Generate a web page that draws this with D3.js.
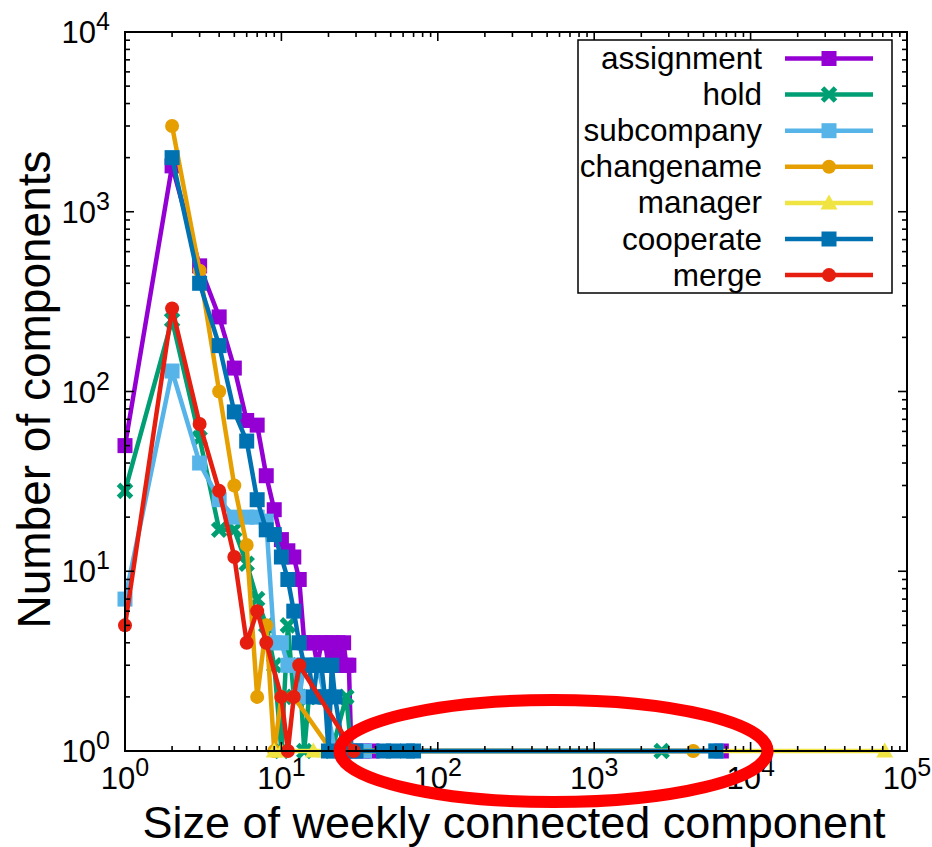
<!DOCTYPE html>
<html>
<head>
<meta charset="utf-8">
<script src="https://cdn.jsdelivr.net/npm/d3@7"></script>
<style>
  body { margin: 0; background: #fff; }
  svg { display: block; }
  text { font-family: "Liberation Sans", Arial, Helvetica, sans-serif; fill: #000; }
</style>
</head>
<body>
<svg id="chart" width="932" height="847"></svg>
<script>
// Series, in drawing order
const seriesNames   = ["assignment", "hold", "subcompany", "changename", "manager", "cooperate", "merge"];
const seriesColors  = ["#9400d3", "#009e73", "#56b4e9", "#e69f00", "#f0e442", "#0072b2", "#e51e10"];
const seriesSymbols = ["square", "cross", "square", "circle", "triangle", "square", "circle"];

// Component size -> number of components, per relation type
const assignmentSize  = [1, 2, 3, 4, 5, 6, 7, 8, 9, 10, 11, 12, 13, 14, 15, 16, 17, 18, 19, 20, 21, 22, 23, 24, 25, 26, 27, 28, 30, 33, 38, 6500];
const assignmentCount = [50, 1800, 500, 260, 135, 69, 65, 34, 22, 15, 13, 12, 9, 4, 4, 4, 3, 4, 4, 3, 4, 3, 4, 3, 4, 3, 3, 1, 1, 1, 1, 1];

const holdSize  = [1, 2, 3, 4, 5, 6, 7, 8, 9, 10, 11, 12, 13, 14, 15, 17, 19, 21, 26, 28, 2700];
const holdCount = [28, 250, 55, 17, 17, 11, 7, 5, 3, 1, 5, 2, 3, 1, 2, 2, 2, 1, 2, 1, 1];

const subcompanySize  = [1, 2, 3, 4, 5, 6, 7, 8, 9, 10, 11, 12, 13, 14, 16, 17, 19, 22, 28, 34, 6000];
const subcompanyCount = [7, 130, 40, 25, 20, 20, 20, 19, 4, 4, 3, 3, 2, 3, 3, 3, 2, 1, 1, 1, 1];

const changenameSize  = [2, 3, 4, 5, 6, 7, 8, 9, 10, 12, 21, 4300];
const changenameCount = [3000, 470, 100, 30, 14, 2, 5, 1, 2, 2, 1, 1];

const managerSize  = [9, 10, 16, 19, 72000];
const managerCount = [1, 1, 1, 1, 1];

const cooperateSize  = [2, 3, 4, 5, 6, 7, 8, 9, 10, 11, 12, 13, 14, 15, 16, 17, 18, 19, 20, 21, 22, 25, 30, 45, 52, 64, 70, 6000];
const cooperateCount = [2000, 400, 180, 77, 53, 25, 17, 16, 12, 9, 6, 4, 3, 3, 2, 3, 3, 2, 1, 3, 2, 1, 1, 1, 1, 1, 1, 1];

const mergeSize  = [1, 2, 3, 4, 5, 6, 7, 8, 10, 11, 12, 13, 29];
const mergeCount = [5, 290, 66, 28, 12, 4, 6, 4, 2, 1, 2, 3, 1];

const xTickExponents = [0, 1, 2, 3, 4, 5];
const yTickExponents = [0, 1, 2, 3, 4];

const xTitle = "Size of weekly connected component";
const yTitle = "Number of components";

// Highlighted region (size, count) for the annotation ellipse
const highlightCenter = [550, 1];

(function draw() {
  const seriesSizes  = [assignmentSize, holdSize, subcompanySize, changenameSize, managerSize, cooperateSize, mergeSize];
  const seriesCounts = [assignmentCount, holdCount, subcompanyCount, changenameCount, managerCount, cooperateCount, mergeCount];
  const series = seriesNames.map((name, i) => ({
    name,
    color: seriesColors[i],
    symbol: seriesSymbols[i],
    points: seriesSizes[i].map((s, j) => ({ size: s, count: seriesCounts[i][j] }))
  }));

  // Layout
  const plotLeft = 125, plotRight = 907, plotTop = 32, plotBottom = 751;

  const x = d3.scaleLog().domain([1, 1e5]).range([plotLeft, plotRight]);
  const y = d3.scaleLog().domain([1, 1e4]).range([plotBottom, plotTop]);

  const svg = d3.select("#chart");

  // Marker drawing
  function drawMarker(g, symbol, color, cx, cy) {
    if (symbol === "square") {
      g.append("rect").attr("x", cx - 7.5).attr("y", cy - 7.5).attr("width", 15).attr("height", 15).attr("fill", color);
    } else if (symbol === "circle") {
      g.append("circle").attr("cx", cx).attr("cy", cy).attr("r", 7).attr("fill", color);
    } else if (symbol === "triangle") {
      g.append("path").attr("d", `M${cx},${cy - 8.5}L${cx + 8.5},${cy + 6.5}L${cx - 8.5},${cy + 6.5}Z`).attr("fill", color);
    } else if (symbol === "cross") {
      g.append("path")
        .attr("d", `M${cx - 6.5},${cy - 6.5}L${cx + 6.5},${cy + 6.5}M${cx - 6.5},${cy + 6.5}L${cx + 6.5},${cy - 6.5}`)
        .attr("stroke", color).attr("stroke-width", 5).attr("fill", "none");
    }
  }

  // Series lines and points
  const line = d3.line().x(d => x(d.size)).y(d => y(d.count));
  const plot = svg.append("g").attr("class", "series");
  series.forEach(s => {
    const g = plot.append("g");
    g.append("path").datum(s.points).attr("d", line)
      .attr("fill", "none").attr("stroke", s.color).attr("stroke-width", 4.5)
      .attr("stroke-linejoin", "miter");
    s.points.forEach(p => drawMarker(g, s.symbol, s.color, x(p.size), y(p.count)));
  });

  // Frame and ticks (log-decade majors, 2..9 minors, mirrored on all sides)
  const frame = svg.append("g").attr("class", "frame");
  frame.append("rect").attr("x", plotLeft).attr("y", plotTop)
    .attr("width", plotRight - plotLeft).attr("height", plotBottom - plotTop)
    .attr("fill", "none").attr("stroke", "#000").attr("stroke-width", 2);

  function minorValues(exps) {
    const out = [];
    exps.slice(0, -1).forEach(e => { for (let k = 2; k <= 9; k++) out.push(k * Math.pow(10, e)); });
    return out;
  }
  function tick(x1, y1, x2, y2) {
    frame.append("line").attr("x1", x1).attr("y1", y1).attr("x2", x2).attr("y2", y2)
      .attr("stroke", "#000").attr("stroke-width", 1.6);
  }
  xTickExponents.forEach(e => {
    const px = x(Math.pow(10, e));
    tick(px, plotBottom, px, plotBottom - 9);
    tick(px, plotTop, px, plotTop + 9);
  });
  minorValues(xTickExponents).forEach(v => {
    const px = x(v);
    tick(px, plotBottom, px, plotBottom - 5);
    tick(px, plotTop, px, plotTop + 5);
  });
  yTickExponents.forEach(e => {
    const py = y(Math.pow(10, e));
    tick(plotLeft, py, plotLeft + 9, py);
    tick(plotRight, py, plotRight - 9, py);
  });
  minorValues(yTickExponents).forEach(v => {
    const py = y(v);
    tick(plotLeft, py, plotLeft + 5, py);
    tick(plotRight, py, plotRight - 5, py);
  });

  // Tick labels as 10^n
  function powerLabel(g, px, py, e, anchor) {
    const t = g.append("text").attr("x", px).attr("y", py).attr("text-anchor", anchor).attr("font-size", 31);
    t.append("tspan").text("10");
    t.append("tspan").attr("dy", -13).attr("font-size", 25).text(String(e));
  }
  const labels = svg.append("g").attr("class", "tick-labels");
  xTickExponents.forEach(e => powerLabel(labels, x(Math.pow(10, e)), plotBottom + 38, e, "middle"));
  yTickExponents.forEach(e => powerLabel(labels, plotLeft - 15, y(Math.pow(10, e)) + 11, e, "end"));

  // Axis titles
  svg.append("text").attr("x", (plotLeft + plotRight) / 2 - 2).attr("y", 838).attr("text-anchor", "middle")
    .attr("font-size", 45).text(xTitle);
  svg.append("text").attr("transform", `translate(50,${(plotTop + plotBottom) / 2 - 2}) rotate(-90)`)
    .attr("text-anchor", "middle").attr("font-size", 46).text(yTitle);

  // Legend
  const legend = svg.append("g").attr("class", "legend");
  legend.append("rect").attr("x", 578).attr("y", 40).attr("width", 314).attr("height", 253)
    .attr("fill", "#fff").attr("stroke", "#000").attr("stroke-width", 1.5);
  series.forEach((s, i) => {
    const ly = 58.5 + i * 36.1;
    legend.append("text").attr("x", 762).attr("y", ly + 10.5).attr("text-anchor", "end")
      .attr("font-size", 31.5).text(s.name);
    legend.append("line").attr("x1", 785).attr("x2", 873).attr("y1", ly).attr("y2", ly)
      .attr("stroke", s.color).attr("stroke-width", 4.5);
    drawMarker(legend, s.symbol, s.color, 829, ly);
  });

  // Annotation ellipse around the long tail of large components
  svg.append("ellipse")
    .attr("cx", x(highlightCenter[0])).attr("cy", y(highlightCenter[1]))
    .attr("rx", 214).attr("ry", 51)
    .attr("fill", "none").attr("stroke", "#ff0000").attr("stroke-width", 12);
})();
</script>
</body>
</html>
